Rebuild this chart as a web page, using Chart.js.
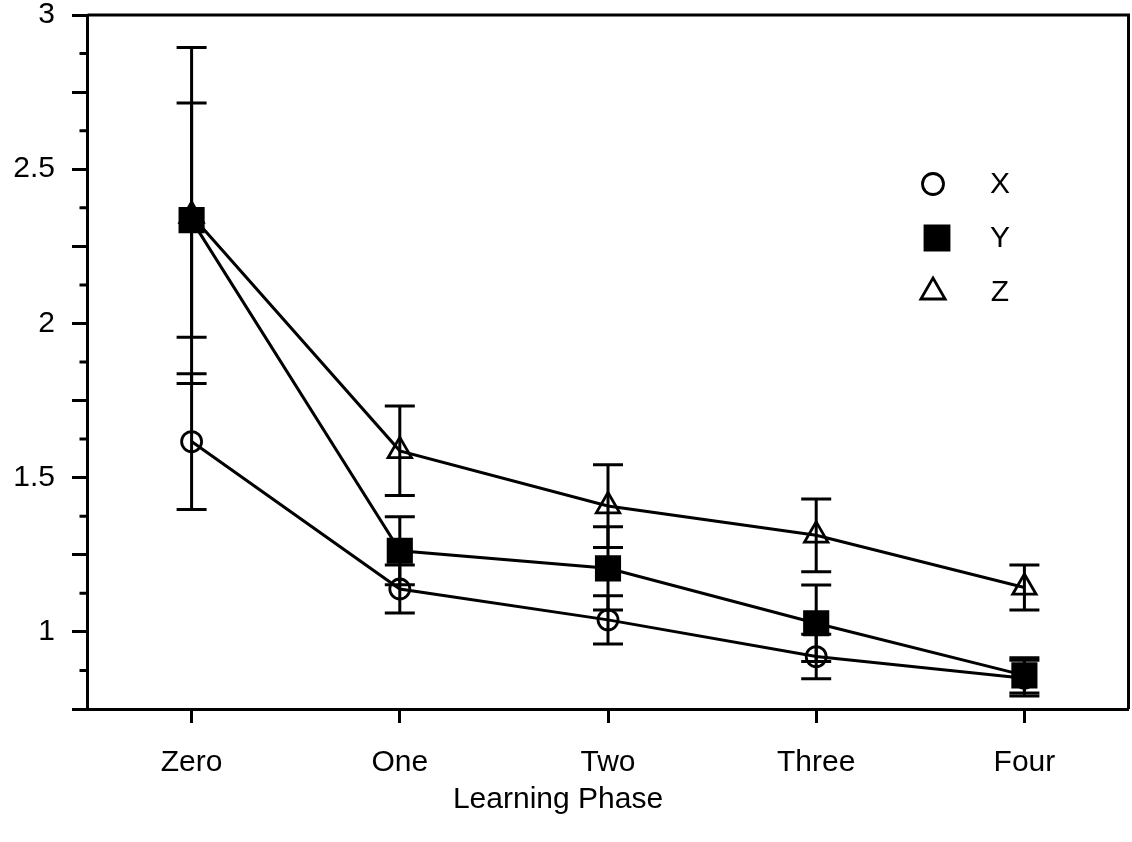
<!DOCTYPE html>
<html lang="en">
<head>
<meta charset="utf-8">
<title>Learning Phase</title>
<script src="https://cdn.jsdelivr.net/npm/chart.js"></script>
<style>
  html, body { margin: 0; padding: 0; background: #fff; overflow: hidden; }
  .chart-container { width: 1132px; height: 842px; position: relative; }
</style>
</head>
<body>
<div class="chart-container"><canvas id="phaseChart"></canvas></div>
<script>
// data
const phases = ['Zero', 'One', 'Two', 'Three', 'Four'];
const xMeans  = [1.617, 1.139, 1.039, 0.920, 0.850];
const xErrors = [0.220, 0.078, 0.078, 0.072, 0.058];
const yMeans  = [2.335, 1.263, 1.206, 1.028, 0.859];
const yErrors = [0.380, 0.110, 0.135, 0.124, 0.057];
const zMeans  = [2.350, 1.587, 1.408, 1.313, 1.144];
const zErrors = [0.545, 0.145, 0.134, 0.118, 0.073];
const yLabelTicks = [1, 1.5, 2, 2.5, 3];
const xTitle = 'Learning Phase';

const FONT = '"Liberation Sans", Arial, sans-serif';

const series = [
  { label: 'X', means: xMeans, errors: xErrors, style: 'circle',   radius: 10, fill: 'rgba(0,0,0,0)' },
  { label: 'Y', means: yMeans, errors: yErrors, style: 'rect',     radius: 16.5, fill: '#000' },
  { label: 'Z', means: zMeans, errors: zErrors, style: 'triangle', radius: 13.5, fill: 'rgba(0,0,0,0)' }
];

// error bars, minor ticks, frame, axis title and legend
const extras = {
  id: 'extras',
  beforeDatasetsDraw(chart) {
    const { ctx, scales: { x, y } } = chart;
    ctx.save();
    ctx.strokeStyle = '#000';
    ctx.lineWidth = 3;
    series.forEach(s => {
      s.means.forEach((m, i) => {
        const px = x.getPixelForValue(i);
        const top = y.getPixelForValue(m + s.errors[i]);
        const bot = y.getPixelForValue(m - s.errors[i]);
        ctx.beginPath();
        ctx.moveTo(px, top); ctx.lineTo(px, bot);
        ctx.moveTo(px - 15, top); ctx.lineTo(px + 15, top);
        ctx.moveTo(px - 15, bot); ctx.lineTo(px + 15, bot);
        ctx.stroke();
      });
    });
    ctx.restore();
  },
  afterDraw(chart) {
    const { ctx, chartArea: a, scales: { y } } = chart;
    ctx.save();
    ctx.strokeStyle = '#000';
    ctx.lineWidth = 3;
    // short minor ticks
    ctx.beginPath();
    for (let v = 0.875; v < 3; v += 0.25) {
      const py = y.getPixelForValue(v);
      ctx.moveTo(a.left - 8, py); ctx.lineTo(a.left, py);
    }
    // top + right frame
    ctx.moveTo(a.left, a.top); ctx.lineTo(a.right, a.top);
    ctx.lineTo(a.right, a.bottom);
    ctx.stroke();

    ctx.font = '30px ' + FONT;
    ctx.textAlign = 'center';
    ctx.textBaseline = 'middle';
    ctx.fillStyle = '#000';
    ctx.fillText(xTitle, 558, 800);

    // legend
    const lx = 933, tx = 1000, rows = [184, 238, 292];
    series.forEach((s, i) => {
      ctx.fillStyle = s.fill;
      ctx.strokeStyle = '#000';
      ctx.lineWidth = 2.8;
      Chart.helpers.drawPoint(ctx, {
        pointStyle: s.style,
        radius: s.style === 'triangle' ? 14 : (s.style === 'rect' ? 17 : 10.5),
        borderWidth: 2.8,
        rotation: 0
      }, s.style === 'rect' ? lx + 4 : lx, rows[i]);
      ctx.fillStyle = '#000';
      ctx.fillText(s.label, tx, rows[i] + 1);
    });
    ctx.restore();
  }
};

const ctx = document.getElementById('phaseChart').getContext('2d');
const chart = new Chart(ctx, {
  type: 'line',
  data: {
    datasets: series.map(s => ({
      label: s.label,
      data: s.means.map((m, i) => ({ x: i, y: m })),
      borderColor: '#000',
      borderWidth: 3,
      pointStyle: s.style,
      pointRadius: s.radius,
      pointBorderWidth: 2.8,
      pointBorderColor: '#000',
      pointBackgroundColor: s.fill,
      tension: 0,
      clip: false
    }))
  },
  options: {
    responsive: true,
    maintainAspectRatio: false,
    animation: false,
    layout: { padding: { top: 15, right: 3.5, left: 0, bottom: 0 } },
    plugins: {
      legend: { display: false },
      tooltip: { enabled: false }
    },
    scales: {
      x: {
        type: 'linear',
        min: -0.5,
        max: 4.5,
        afterBuildTicks: scale => { scale.ticks = phases.map((p, i) => ({ value: i })); },
        afterFit: scale => {
          scale.height = 133;
          scale.paddingLeft = 0; scale.paddingRight = 0;
        },
        grid: { drawOnChartArea: false, tickLength: 14, tickWidth: 3, tickColor: '#000' },
        border: { color: '#000', width: 3 },
        ticks: {
          autoSkip: false,
          maxRotation: 0,
          padding: 22,
          color: '#000',
          font: { family: FONT, size: 30 },
          callback: v => phases[v]
        }
      },
      y: {
        min: 0.75,
        max: 3,
        afterFit: scale => {
          scale.width = 87.5;
          scale.paddingTop = 0; scale.paddingBottom = 0;
        },
        grid: { drawOnChartArea: false, tickLength: 15.5, tickWidth: 3, tickColor: '#000' },
        border: { color: '#000', width: 3 },
        ticks: {
          stepSize: 0.25,
          autoSkip: false,
          padding: 17,
          color: '#000',
          font: { family: FONT, size: 30 },
          callback: v => yLabelTicks.some(t => Math.abs(t - v) < 1e-6) ? String(v) : ''
        }
      }
    }
  },
  plugins: [extras]
});

// big markers must not push the plot area inwards
chart.data.datasets.forEach((d, i) => {
  chart.getDatasetMeta(i).controller.getMaxOverflow = () => 0;
});
chart.update();
</script>
</body>
</html>
